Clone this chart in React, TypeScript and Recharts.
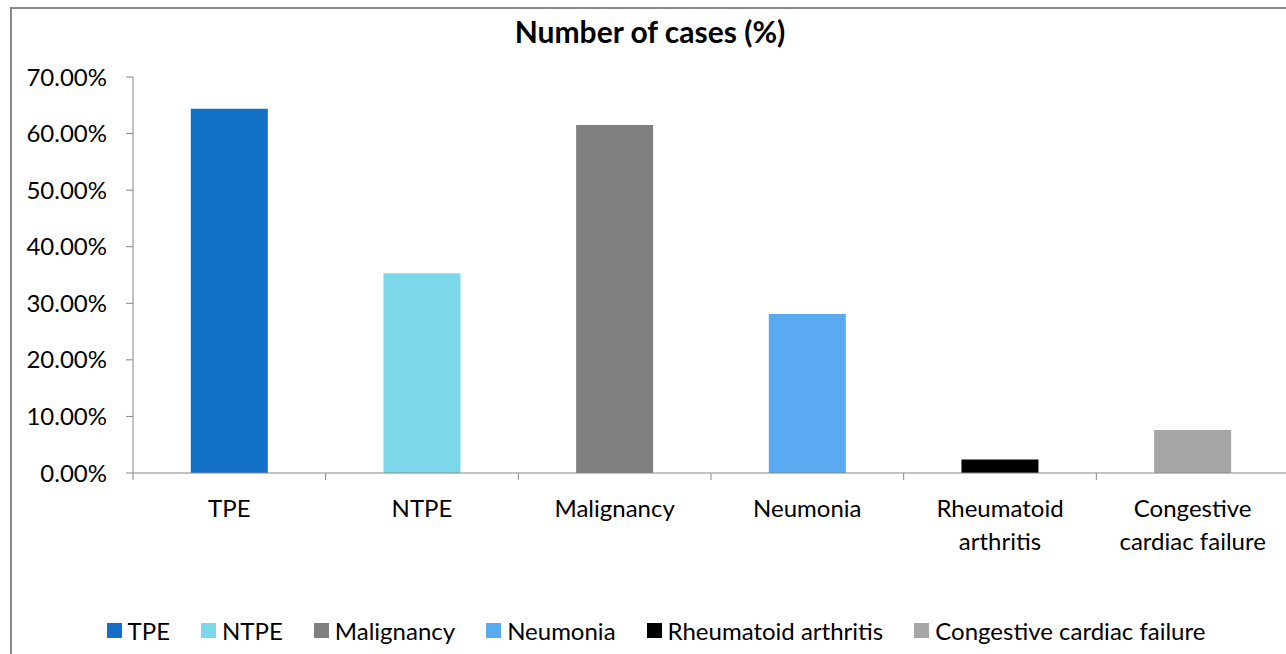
import React from 'react';
import { BarChart, Bar, Cell, XAxis, YAxis } from 'recharts';

const categories = ['TPE', 'NTPE', 'Malignancy', 'Neumonia', 'Rheumatoid arthritis', 'Congestive cardiac failure'];
const tickLines = [['TPE'], ['NTPE'], ['Malignancy'], ['Neumonia'], ['Rheumatoid', 'arthritis'], ['Congestive', 'cardiac failure']];
const casesPct = [64.4, 35.3, 61.5, 28.1, 2.4, 7.6];
const barColors = ['#1270C7', '#7AD8E8', '#7F7F7F', '#5AAAF2', '#000000', '#A6A6A6'];
const yTicks = [0, 10, 20, 30, 40, 50, 60, 70];

const data = categories.map((name, i) => ({ name, value: casesPct[i] }));

const FONT = 'Lato, "Open Sans", sans-serif';
const AXIS = '#868686';
const CHART_W = 1290;
const CHART_H = 660;
const MARGIN = { top: 68, right: 13, bottom: 136, left: 0 };
const YAXIS_W = 121;
const XAXIS_H = 60;
const BAND = (CHART_W - MARGIN.left - MARGIN.right - YAXIS_W) / categories.length;

// category ticks sit on band edges, labels in the middle (Excel style)
function XTick(props: any) {
  const { x, y, index } = props;
  const half = BAND / 2;
  const lines = tickLines[index] || [];
  return (
    <g>
      <line x1={x - half} y1={y} x2={x - half} y2={y + 7} stroke={AXIS} />
      {index === categories.length - 1 && (
        <line x1={x + half} y1={y} x2={x + half} y2={y + 7} stroke={AXIS} />
      )}
      <text x={x} y={y + 44} textAnchor="middle" fill="#000" style={{ fontSize: 24, fontFamily: FONT }}>
        {lines.map((l, i) => (
          <tspan key={i} x={x} dy={i === 0 ? 0 : 33}>
            {l}
          </tspan>
        ))}
      </text>
    </g>
  );
}

export default function App() {
  return (
    <div style={{ position: 'fixed', left: 10, top: 7, width: 1276, height: 647, overflow: 'hidden', background: '#fff' }}>
      <div style={{ position: 'relative', width: CHART_W, height: CHART_H, border: '2px solid #898989' }}>
        <div
          style={{
            position: 'absolute',
            left: 0,
            top: 7,
            width: 1276,
            textAlign: 'center',
            fontFamily: FONT,
            fontWeight: 'bold',
            fontSize: 30,
            lineHeight: 1,
            color: '#000',
          }}
        >
          Number of cases (%)
        </div>
        <BarChart width={CHART_W} height={CHART_H} data={data} margin={MARGIN} barCategoryGap="30%">
          <XAxis
            dataKey="name"
            height={XAXIS_H}
            interval={0}
            tickLine={false}
            tickSize={0}
            tickMargin={0}
            axisLine={{ stroke: AXIS }}
            tick={<XTick />}
          />
          <YAxis
            width={YAXIS_W}
            domain={[0, 70]}
            ticks={yTicks}
            interval={0}
            tickSize={7}
            tickMargin={19}
            axisLine={{ stroke: AXIS }}
            tickLine={{ stroke: AXIS }}
            tick={{ fill: '#000', fontSize: 24, fontFamily: FONT }}
            tickFormatter={(v: number) => v.toFixed(2) + '%'}
          />
          <Bar dataKey="value" isAnimationActive={false}>
            {data.map((d, i) => (
              <Cell key={d.name} fill={barColors[i]} />
            ))}
          </Bar>
        </BarChart>
        <div
          style={{
            position: 'absolute',
            left: 0,
            top: 606,
            width: 1288,
            height: 30,
            display: 'flex',
            justifyContent: 'center',
            alignItems: 'center',
            gap: 31,
            fontFamily: FONT,
            fontSize: 24,
            color: '#000',
          }}
        >
          {categories.map((c, i) => (
            <div key={c} style={{ display: 'flex', alignItems: 'center', gap: 6 }}>
              <span style={{ width: 15, height: 15, background: barColors[i], display: 'inline-block' }} />
              <span>{c}</span>
            </div>
          ))}
        </div>
      </div>
    </div>
  );
}
